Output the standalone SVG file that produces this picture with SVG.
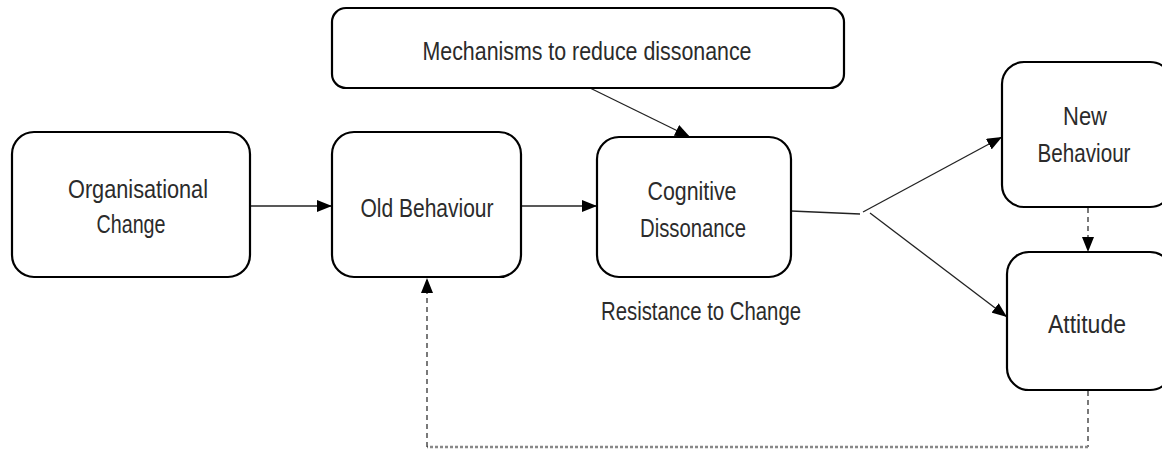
<svg xmlns="http://www.w3.org/2000/svg" width="1162" height="450" viewBox="0 0 1162 450">
<style>
.box{fill:#fff;stroke:#000;stroke-width:2.2}
.t{font-family:"Liberation Sans",Arial,sans-serif;font-size:26px;fill:#2b2b2b;text-anchor:middle}
.c{fill:none;stroke:#222;stroke-width:1.3}
.d{fill:none;stroke:#222;stroke-width:1.2;stroke-dasharray:5,4}
.dot{fill:none;stroke:#888;stroke-width:2.6;stroke-dasharray:3,2}
</style>
<defs>
<marker id="ah" viewBox="0 0 15 12" refX="15" refY="6" markerWidth="15" markerHeight="12" markerUnits="userSpaceOnUse" orient="auto">
<path d="M0,0 L15,6 L0,12 Z" fill="#000"/>
</marker>
</defs>
<rect width="1162" height="450" fill="#fff"/>
<g id="connectors">
<line class="c" x1="250" y1="206" x2="332" y2="206" marker-end="url(#ah)"/>
<line class="c" x1="521" y1="206" x2="597" y2="206" marker-end="url(#ah)"/>
<line class="c" x1="590" y1="88" x2="690" y2="137" marker-end="url(#ah)"/>
<line class="c" x1="791" y1="211" x2="860" y2="214"/>
<line class="c" x1="863" y1="212" x2="1002" y2="137" marker-end="url(#ah)"/>
<line class="c" x1="870" y1="213" x2="1007" y2="317" marker-end="url(#ah)"/>
<line class="d" x1="1088" y1="208" x2="1088" y2="252" marker-end="url(#ah)"/>
<line class="d" x1="1088" y1="391" x2="1088" y2="447"/>
<line class="dot" x1="1088" y1="447" x2="427" y2="447"/>
<line class="d" x1="427" y1="447" x2="427" y2="278" marker-end="url(#ah)"/>
</g>
<g id="mechanisms">
<rect class="box" x="332" y="8" width="512" height="80" rx="14"/>
<text class="t" x="587" y="60" textLength="329" lengthAdjust="spacingAndGlyphs">Mechanisms to reduce dissonance</text>
</g>
<g id="organisational-change">
<rect class="box" x="12" y="132" width="238" height="145" rx="22"/>
<text class="t" x="138" y="198" textLength="140" lengthAdjust="spacingAndGlyphs">Organisational</text>
<text class="t" x="131" y="233" textLength="69" lengthAdjust="spacingAndGlyphs">Change</text>
</g>
<g id="old-behaviour">
<rect class="box" x="332" y="132" width="189" height="145" rx="22"/>
<text class="t" x="427" y="217" textLength="133" lengthAdjust="spacingAndGlyphs">Old Behaviour</text>
</g>
<g id="cognitive-dissonance">
<rect class="box" x="597" y="137" width="194" height="140" rx="22"/>
<text class="t" x="692" y="200" textLength="89" lengthAdjust="spacingAndGlyphs">Cognitive</text>
<text class="t" x="693" y="237" textLength="106" lengthAdjust="spacingAndGlyphs">Dissonance</text>
</g>
<g id="resistance-label">
<text class="t" x="701" y="320" textLength="200" lengthAdjust="spacingAndGlyphs">Resistance to Change</text>
</g>
<g id="new-behaviour">
<rect class="box" x="1002" y="62" width="170" height="145" rx="22"/>
<text class="t" x="1085" y="125" textLength="44" lengthAdjust="spacingAndGlyphs">New</text>
<text class="t" x="1084" y="162" textLength="93" lengthAdjust="spacingAndGlyphs">Behaviour</text>
</g>
<g id="attitude">
<rect class="box" x="1007" y="252" width="165" height="138" rx="22"/>
<text class="t" x="1087" y="333" textLength="78" lengthAdjust="spacingAndGlyphs">Attitude</text>
</g>
</svg>
